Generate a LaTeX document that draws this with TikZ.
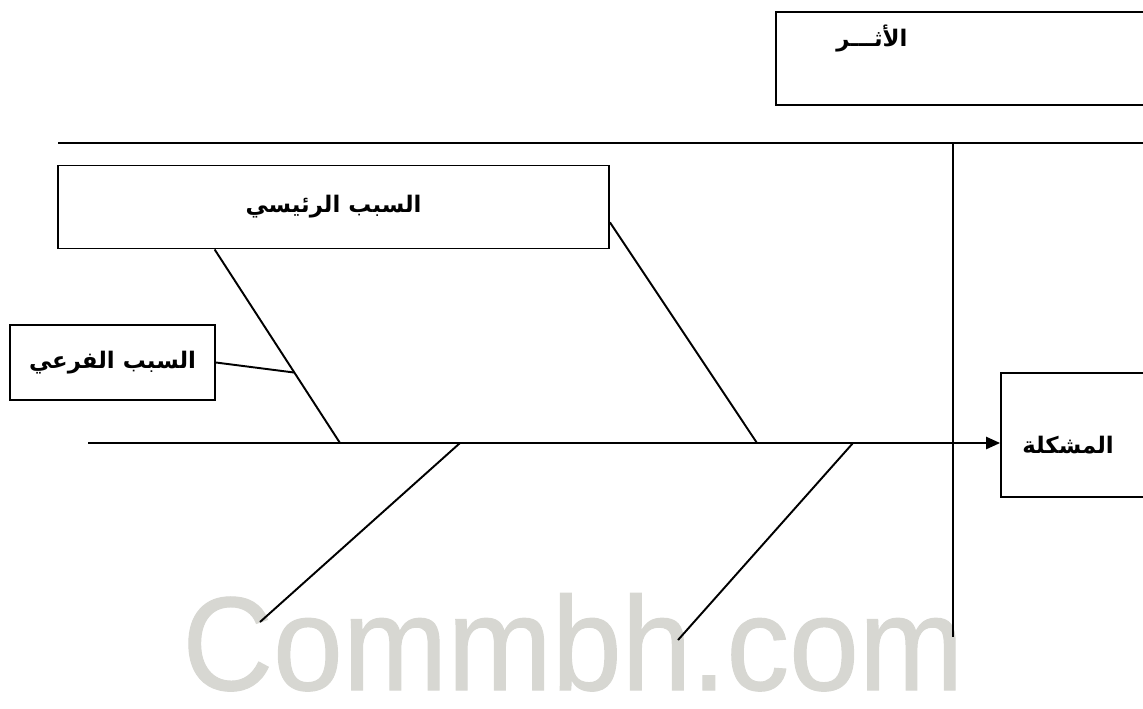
\documentclass[tikz,border=0pt]{standalone}
\usepackage{fontspec}
\newfontfamily\arabicfont[Script=Arabic]{DejaVu Sans}
\newfontfamily\markfont[FakeBold=0.8]{Liberation Sans}
\TeXXeTstate=1
\usetikzlibrary{calc,arrows.meta}
\definecolor{markgray}{RGB}{215,215,210}
\tikzset{
	box/.style={draw, line width=1.1pt, inner sep=0pt},
	bone/.style={line width=1.1pt},
	lbl/.style={font=\arabicfont\bfseries\fontsize{13}{15}\selectfont},
}

\begin{document}
\begin{tikzpicture}[x=0.02cm, y=-0.02cm]
		%%%%% START %%%%%
		\useasboundingbox (0,0) rectangle (1143,708);
		
		\node[anchor=base, text=markgray, font=\markfont\fontsize{76}{76}\selectfont, xscale=0.94, inner sep=0pt] (mark) at (573,690) {Commbh.com};
		
		\node[box, minimum width=7.68cm, minimum height=1.86cm] (effect) at (968,58.5) {};
		\node[lbl] (effecttxt) at (872,38) {\beginR الأثـــر\endR};
		
		\draw[bone] (58,143) -- (1143,143);
		\draw[bone] (953,143) -- (953,637);
		
		\node[box, minimum width=11.02cm, minimum height=1.66cm, lbl] (cause) at (333.5,207) {\beginR السبب الرئيسي\endR};
		\node[box, minimum width=4.1cm, minimum height=1.5cm, lbl] (sub) at (112.5,362.5) {\beginR السبب الفرعي\endR};
		
		\node[box, minimum width=3.2cm, minimum height=2.48cm] (problem) at (1081,435) {};
		\node[lbl] (problemtxt) at (1068,445) {\beginR المشكلة\endR};
		
		\coordinate (tail) at (88,443);
		\draw[bone, -{Triangle[length=8pt, width=7pt]}] (tail) -- (tail -| problem.west);
		
		\coordinate (c1) at ($(cause.south west)!0.285!(cause.south east)$);
		\coordinate (s1) at (340,443);
		\draw[bone] (c1) -- (s1);
		\coordinate (c2) at ($(cause.north east)!0.68!(cause.south east)$);
		\coordinate (s2) at (757,443);
		\draw[bone] (c2) -- (s2);
		\draw[bone] (sub.east) -- ($(c1)!0.636!(s1)$);
		
		\coordinate (s3) at (460,443);
		\coordinate (e3) at (260,622);
		\draw[bone] (s3) -- (e3);
		\coordinate (s4) at (853,443);
		\coordinate (e4) at (678,640);
		\draw[bone] (s4) -- (e4);
		
		%%%%% END %%%%%
\end{tikzpicture}
\end{document}
